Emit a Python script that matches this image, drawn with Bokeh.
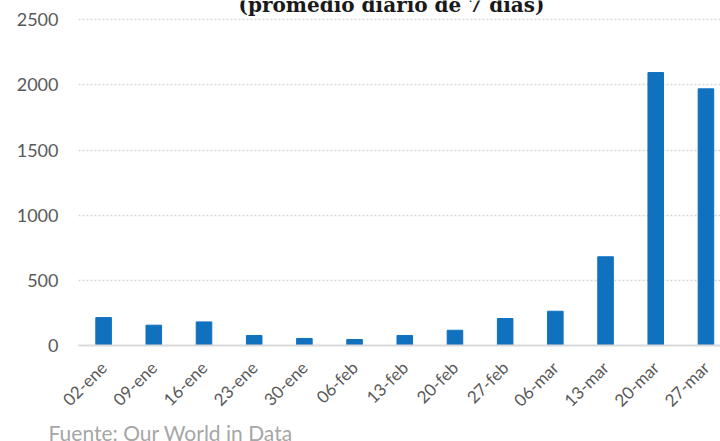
import math
from bokeh.plotting import figure
from bokeh.models import FixedTicker, Range1d, Label, Title
from bokeh.embed import file_html
from bokeh.resources import INLINE

fechas = ["02-ene", "09-ene", "16-ene", "23-ene", "30-ene", "06-feb", "13-feb",
          "20-feb", "27-feb", "06-mar", "13-mar", "20-mar", "27-mar"]
casos = [214, 156, 181, 77, 54, 46, 77, 117, 207, 263, 681, 2095, 1970]
y_ticks = [0, 500, 1000, 1500, 2000, 2500]
titulo = "(promedio diario de 7 días)"
fuente = "Fuente: Our World in Data"

idx = list(range(len(fechas)))

p = figure(width=720, height=441, output_backend="svg", toolbar_location=None,
           x_range=Range1d(-0.5, 12.29), y_range=Range1d(0, 2648),
           min_border_left=78, min_border_right=0, min_border_top=0,
           min_border_bottom=95)
p.outline_line_color = None
p.background_fill_color = "white"

p.vbar(x=idx, top=casos, width=0.31, color="#1071bf")

# y axis
p.yaxis.ticker = FixedTicker(ticks=y_ticks)
p.yaxis.axis_line_color = None
p.yaxis.major_tick_line_color = None
p.yaxis.minor_tick_line_color = None
p.yaxis.major_label_standoff = 14
p.yaxis.major_label_text_font = "Lato"
p.yaxis.major_label_text_font_size = "18px"
p.yaxis.major_label_text_color = "#595959"

# x axis
p.xaxis.ticker = FixedTicker(ticks=idx)
p.xaxis.major_label_overrides = {i: f for i, f in zip(idx, fechas)}
p.xaxis.major_label_orientation = math.pi / 4
p.xaxis.axis_line_color = "#d9d9d9"
p.xaxis.axis_line_width = 2
p.xaxis.major_tick_line_color = None
p.xaxis.minor_tick_line_color = None
p.xaxis.major_label_standoff = 13
p.xaxis.major_label_text_font = "Lato"
p.xaxis.major_label_text_font_size = "17px"
p.xaxis.major_label_text_color = "#595959"

# grid
p.xgrid.grid_line_color = None
p.ygrid.ticker = FixedTicker(ticks=y_ticks[1:])
p.ygrid.grid_line_color = "#d4d4d4"
p.ygrid.grid_line_width = 1.5
p.ygrid.grid_line_dash = "2 2"

p.add_layout(Label(x=5.735, y=2610, text=titulo, text_align="center",
                   text_baseline="alphabetic", text_font="DejaVu Serif",
                   text_font_style="bold", text_font_size="20px",
                   text_color="#1a1a1a"))

src = Title(text=fuente, align="left", offset=-30, standoff=-6,
            text_font="Lato", text_font_style="normal",
            text_font_size="21px", text_color="#a6a6a6")
p.add_layout(src, "below")

open("out.html", "w").write(file_html(p, INLINE))
